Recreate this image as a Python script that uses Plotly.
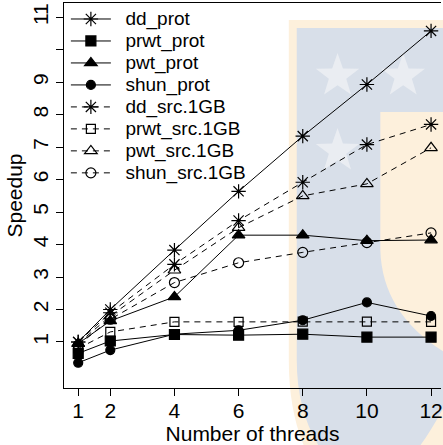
import math
import plotly.graph_objects as go

threads = [1, 2, 4, 6, 8, 10, 12]
dd_prot = [1.0, 2.0, 3.83, 5.64, 7.34, 8.93, 10.58]
prwt_prot = [0.65, 1.03, 1.23, 1.21, 1.24, 1.15, 1.15]
pwt_prot = [0.95, 1.65, 2.39, 4.29, 4.29, 4.12, 4.14]
shun_prot = [0.36, 0.75, 1.24, 1.36, 1.67, 2.22, 1.80]
dd_src = [1.0, 1.9, 3.39, 4.74, 5.92, 7.08, 7.70]
prwt_src = [0.8, 1.31, 1.62, 1.62, 1.63, 1.63, 1.62]
pwt_src = [0.95, 1.8, 3.21, 4.52, 5.5, 5.87, 6.98]
shun_src = [0.9, 1.7, 2.83, 3.44, 3.76, 4.06, 4.36]

y_ticks = [1, 2, 3, 4, 5, 6, 7, 8, 9, 10, 11]
y_ticktext = ["1", "2", "3", "4", "5", "6", "7", "8", "9", "", "11"]
x_ticks = [1, 2, 4, 6, 8, 10, 12]

series = [
    ("dd_prot", dd_prot, "asterisk-open", 12, "solid"),
    ("prwt_prot", prwt_prot, "square", 10, "solid"),
    ("pwt_prot", pwt_prot, "triangle-up", 11, "solid"),
    ("shun_prot", shun_prot, "circle", 9, "solid"),
    ("dd_src.1GB", dd_src, "asterisk-open", 12, "6px,5px"),
    ("prwt_src.1GB", prwt_src, "square-open", 9, "6px,5px"),
    ("pwt_src.1GB", pwt_src, "triangle-up-open", 11, "6px,5px"),
    ("shun_src.1GB", shun_src, "circle-open", 10, "6px,5px"),
]

FONT = "Liberation Sans, Arial, Helvetica, sans-serif"

fig = go.Figure()
for name, vals, sym, size, dash in series:
    fig.add_trace(go.Scatter(
        x=threads, y=vals,
        name='<span style="font-size:19px">\u2002' + name + '</span>',
        mode="lines+markers",
        line=dict(color="black", width=1, dash=dash),
        marker=dict(symbol=sym, size=size, color="black",
                    line=dict(color="black", width=1.2)),
    ))

# --- background watermark (pixel geometry of plot area) ---
W, H = 443, 445
L, R_, T, B = 64, 0, 3, 57
PW, PH = W - L - R_, H - T - B


def fx(px):
    return (px - L) / PW


def fy(py):
    return (H - B - py) / PH


def path(points, close=True):
    s = "M " + " L ".join(f"{fx(a):.4f},{fy(b):.4f}" for a, b in points)
    return s + (" Z" if close else "")


def qpath(cmds):
    out = []
    for c in cmds:
        if c[0] == "Z":
            out.append("Z")
        elif c[0] == "Q":
            out.append(f"Q {fx(c[1]):.4f},{fy(c[2]):.4f} {fx(c[3]):.4f},{fy(c[4]):.4f}")
        else:
            out.append(f"{c[0]} {fx(c[1]):.4f},{fy(c[2]):.4f}")
    return " ".join(out)


cream = "rgb(253,240,220)"
blue = "rgb(216,223,233)"
light = "rgb(234,237,242)"

shapes = []
shapes.append(dict(type="path", xref="paper", yref="paper", layer="below",
                   path=qpath([("M", 290, 20), ("L", 460, 20), ("L", 460, 460),
                               ("L", 312, 460), ("Q", 290, 420, 290, 360), ("Z",)]),
                   fillcolor=cream, line=dict(width=0)))
shapes.append(dict(type="path", xref="paper", yref="paper", layer="below",
                   path=qpath([("M", 298, 28), ("L", 460, 28), ("L", 460, 112),
                               ("L", 382, 112), ("L", 382, 250),
                               ("Q", 384, 320, 460, 360), ("L", 460, 380),
                               ("Q", 430, 440, 410, 460), ("L", 330, 460),
                               ("Q", 298, 420, 298, 360), ("Z",)]),
                   fillcolor=blue, line=dict(width=0)))


def star(cx, cy, r):
    pts = []
    for i in range(10):
        ang = -math.pi / 2 + i * math.pi / 5
        rr = r if i % 2 == 0 else r * 0.4
        pts.append((cx + rr * math.cos(ang), cy + rr * math.sin(ang)))
    return path(pts)


for cx, cy in [(339, 76), (405, 76), (339, 151)]:
    shapes.append(dict(type="path", xref="paper", yref="paper", layer="below",
                       path=star(cx, cy, 23), fillcolor=light, line=dict(width=0)))

fig.update_layout(
    width=W, height=H,
    margin=dict(l=L, r=R_, t=T, b=B, pad=0),
    paper_bgcolor="white",
    plot_bgcolor="rgba(0,0,0,0)",
    font=dict(family=FONT, size=21, color="black"),
    shapes=shapes,
    showlegend=True,
    legend=dict(x=0.005, y=1.0, xanchor="left", yanchor="top",
                bgcolor="rgba(0,0,0,0)", borderwidth=0,
                font=dict(size=14.6, family=FONT, color="black"),
                itemwidth=40, tracegroupgap=0),
    xaxis=dict(range=[0.557, 12.31], tickvals=x_ticks, showgrid=False, zeroline=False,
               showline=True, linecolor="black", linewidth=1, mirror=True,
               ticks="outside", ticklen=7, tickcolor="black",
               ticklabeloverflow="allow", ticklabelstandoff=-3,
               tickfont=dict(size=21),
               title=dict(text="Number of threads", font=dict(size=21), standoff=4)),
    yaxis=dict(range=[-0.417, 11.44], tickvals=y_ticks, ticktext=y_ticktext,
               showgrid=False, zeroline=False,
               showline=True, linecolor="black", linewidth=1, mirror=False,
               ticks="outside", ticklen=7, tickcolor="black", tickangle=-90,
               tickfont=dict(size=21),
               title=dict(text="Speedup", font=dict(size=21), standoff=0)),
)

fig.write_html(
    "out.html",
    config={"displayModeBar": False},
    post_script="document.body.style.margin='0';document.body.style.overflow='hidden';",
)
